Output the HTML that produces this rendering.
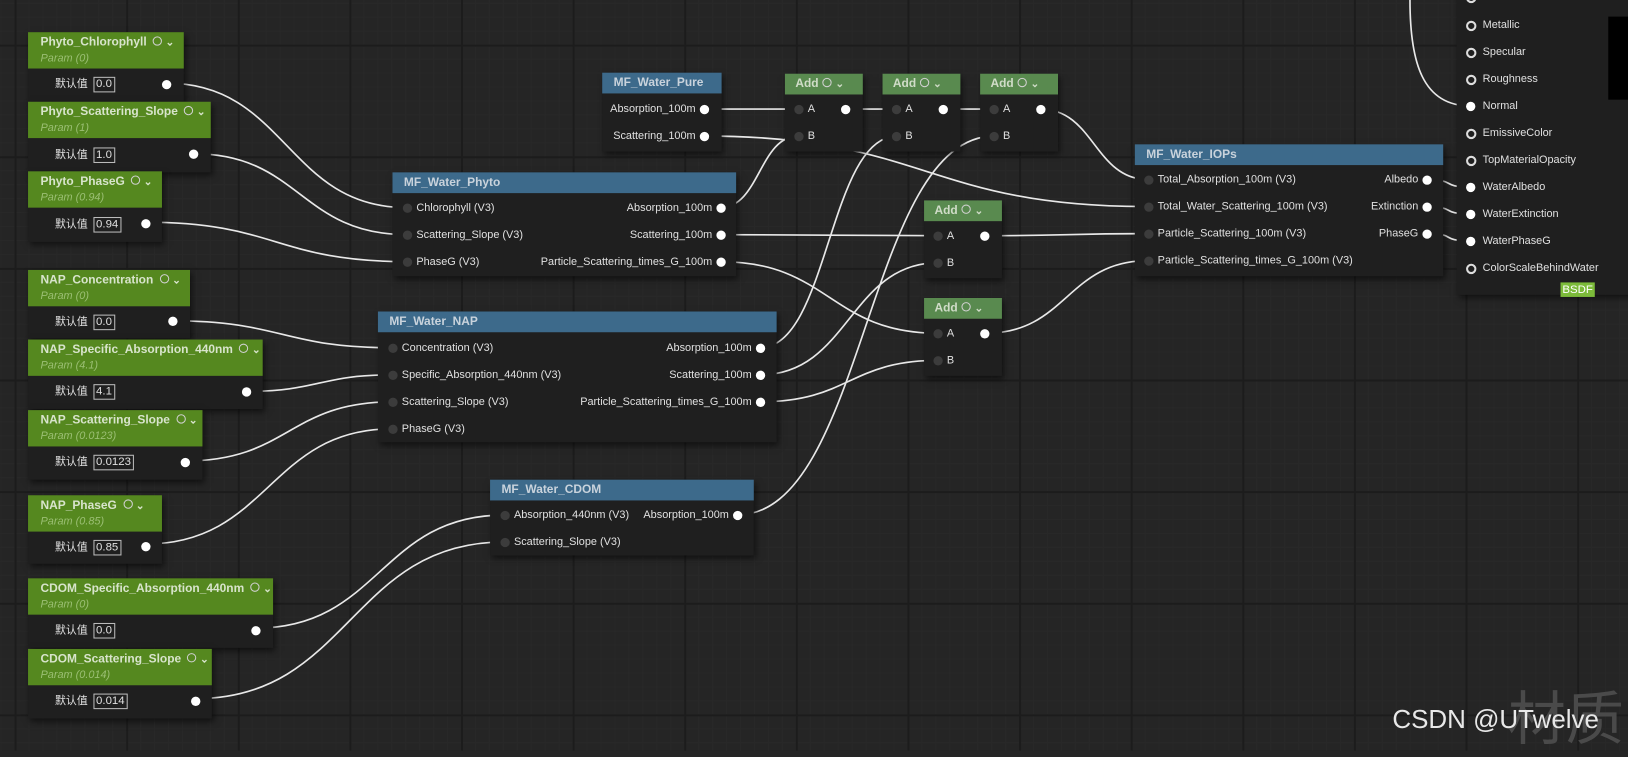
<!DOCTYPE html>
<html><head><meta charset="utf-8">
<style>
html,body{margin:0;padding:0;width:1628px;height:751px;overflow:hidden;background:#252525;}
#wrap{position:absolute;left:0;top:0;width:1568px;height:723px;transform:scale(1.03827);transform-origin:0 0;
 background-color:#252525;
 background-image:
 linear-gradient(to right,#1c1c1c 0,#1c1c1c 2px,transparent 2px),
 linear-gradient(to bottom,#1c1c1c 0,#1c1c1c 2px,transparent 2px),
 linear-gradient(to right,#282828 0,#282828 1px,transparent 1px),
 linear-gradient(to bottom,#282828 0,#282828 1px,transparent 1px);
 background-size:107.5px 107.5px,107.5px 107.5px,13.44px 13.44px,13.44px 13.44px;
 background-position:14px 43px,14px 43px,14px 43px,14px 43px;
 font-family:"Liberation Sans","Noto Sans CJK SC",sans-serif;color:#e6e6e6;}
.n{position:absolute;background:#1f1f1f;box-shadow:2px 3px 6px rgba(0,0,0,.55);}
.h{position:absolute;left:0;right:0;top:0;color:#dcdcdc;font-weight:bold;font-size:11.5px;}
.hb{background:#3d6a8b;height:20px;line-height:20px;padding-left:11px;color:#c9d3dc;}
.hg{background:#55881f;height:35px;}
.hg .t{position:absolute;left:12px;top:4px;color:#d8e4cc;}
.hg .p{position:absolute;left:12px;top:19px;font-style:italic;font-weight:normal;color:#9bbf74;font-size:10.5px;}
.ha{background:#598a4f;height:20px;line-height:20px;padding-left:10px;color:#d0dcc8;}
.ic{display:inline-block;width:7px;height:7px;border:1.5px solid #d0d0d0;border-radius:50%;vertical-align:middle;margin-left:4px;position:relative;top:-1px}
.l{position:absolute;font-size:10.5px;color:#e0e0e0;white-space:nowrap;line-height:12px;}
.pin{position:absolute;width:9px;height:9px;border-radius:50%;}
.po{background:#fff;}
.pi{background:#3c3c3c;}
.pr{border:2px solid #ddd;width:6px;height:6px;}
.box{display:inline-block;border:1px solid #bbb;padding:0 2px;font-size:11px;margin-left:5px;line-height:13px}
svg{position:absolute;left:0;top:0}
</style></head><body><div id="wrap">
<svg width="1568" height="723" id="wires"></svg>
<div id="nodes"></div>
<div style="position:absolute;left:1549px;top:16px;width:19px;height:80px;background:#000"></div>
<div style="position:absolute;left:1452px;top:648px;font-size:56px;color:#4a4a4a;font-family:'Noto Sans CJK SC',sans-serif;">材质</div>
<div style="position:absolute;left:1341px;top:679px;font-size:25px;color:#e8e8e8;">CSDN @UTwelve</div>
</div>
<script>
var N=document.getElementById('nodes'),h='';
function node(x,y,w,hh){h+='<div class="n" style="left:'+x+'px;top:'+y+'px;width:'+w+'px;height:'+hh+'px"></div>';}
function lab(x,y,t,right){h+='<div class="l" style="'+(right?'right:'+(1568-x)+'px':'left:'+x+'px')+';top:'+(y-6)+'px">'+t+'</div>';}
function pin(x,y,c){h+='<div class="pin '+c+'" style="left:'+(x-4.5)+'px;top:'+(y-4.5)+'px"></div>';}
function param(x,y,w,name,p,val,px,bodyH){
 node(x,y,w,35+bodyH);
 h+='<div class="h hg" style="position:absolute;left:'+x+'px;top:'+y+'px;width:'+w+'px"><span class="t">'+name+'<span class="ic" style="margin-left:6px"></span> <span style="font-size:10px">&#8964;</span></span><span class="p">Param ('+p+')</span></div>';
 var ry=y+35+bodyH/2-1;
 h+='<div class="l" style="left:'+(x+26)+'px;top:'+(ry-7)+'px">默认值<span class="box">'+val+'</span></div>';
 pin(px,ry,'po');
}
param(27,31,150,'Phyto_Chlorophyll','0','0.0',160,32);
param(27,98,176,'Phyto_Scattering_Slope','1','1.0',186,33);
param(27,165,129,'Phyto_PhaseG','0.94','0.94',140,33);
param(27,260,156,'NAP_Concentration','0','0.0',166,31);
param(27,327,226,'NAP_Specific_Absorption_440nm','4.1','4.1',237,32);
param(27,395,168,'NAP_Scattering_Slope','0.0123','0.0123',178,32);
param(27,477,129,'NAP_PhaseG','0.85','0.85',140,31);
param(27,557,236,'CDOM_Specific_Absorption_440nm','0','0.0',246,32);
param(27,625,177,'CDOM_Scattering_Slope','0.014','0.014',188,32);
function mf(x,y,w,hh,name,ins,outs,ip,op,ys){
 node(x,y,w,hh);
 h+='<div class="h hb" style="position:absolute;left:'+x+'px;top:'+y+'px;width:'+(w-11)+'px">'+name+'</div>';
 ins.forEach(function(t,i){pin(ip,ys[i],'pi');lab(ip+9,ys[i],t);});
 outs.forEach(function(t,i){if(!t)return;pin(op,ys[i],'po');lab(op-8,ys[i],t,1);});
}
mf(580,70,115,76,'MF_Water_Pure',[],['Absorption_100m','Scattering_100m'],0,678,[105,131]);
mf(378,166,331,100,'MF_Water_Phyto',['Chlorophyll (V3)','Scattering_Slope (V3)','PhaseG (V3)'],['Absorption_100m','Scattering_100m','Particle_Scattering_times_G_100m'],392,694,[200,226,252]);
mf(364,300,384,126,'MF_Water_NAP',['Concentration (V3)','Specific_Absorption_440nm (V3)','Scattering_Slope (V3)','PhaseG (V3)'],['Absorption_100m','Scattering_100m','Particle_Scattering_times_G_100m'],378,732,[335,361,387,413]);
mf(472,462,254,73,'MF_Water_CDOM',['Absorption_440nm (V3)','Scattering_Slope (V3)'],['Absorption_100m'],486,710,[496,522]);
mf(1093,139,297,127,'MF_Water_IOPs',['Total_Absorption_100m (V3)','Total_Water_Scattering_100m (V3)','Particle_Scattering_100m (V3)','Particle_Scattering_times_G_100m (V3)'],['Albedo','Extinction','PhaseG'],1106,1374,[173,199,225,251]);
function add(x,y,ya,yb){
 node(x,y,75,yb-y+15);
 h+='<div class="h ha" style="position:absolute;left:'+x+'px;top:'+y+'px;width:65px">Add<span class="ic"></span> <span style="font-size:10px">&#8964;</span></div>';
 pin(x+13,ya,'pi');lab(x+22,ya,'A');pin(x+13,yb,'pi');lab(x+22,yb,'B');pin(x+58,ya,'po');
}
add(756,71,105,131);add(850,71,105,131);add(944,71,105,131);
add(890,193,227,253);add(890,287,321,347);
node(1403,-10,170,294);
var rl=[['BaseColor',-3,0],['Metallic',24,0],['Specular',50,0],['Roughness',76,0],['Normal',102,1],['EmissiveColor',128,0],['TopMaterialOpacity',154,0],['WaterAlbedo',180,1],['WaterExtinction',206,1],['WaterPhaseG',232,1],['ColorScaleBehindWater',258,0]];
rl.forEach(function(r){pin(1416,r[1],r[2]?'po':'pr');lab(1428,r[1],r[0]);});
h+='<div style="position:absolute;left:1503px;top:272px;width:33px;height:14px;background:#7cbb3a;color:#fff;font-size:11px;text-align:center;line-height:14px">BSDF</div>';
N.innerHTML=h;
var W=[[160,80,392,200],[186,148,392,226],[140,214,392,252],[166,309,378,335],[237,377,378,361],[178,444,378,387],[140,524,378,413],[246,605,486,496],[188,673,486,522],
[678,105,769,105],[814,105,864,105],[908,105,958,105],[1002,105,1106,173],[678,131,1106,199],[694,200,769,131],[694,226,904,227],[694,252,904,321],[732,335,864,131],[732,361,904,253],[732,387,904,347],[710,496,958,131],[949,227,1106,225],[949,321,1106,251],[1374,173,1416,180],[1374,199,1416,206],[1374,225,1416,232]];
var s='';
W.forEach(function(w){var d=Math.max(30,Math.abs(w[2]-w[0])*0.5);
 s+='<path d="M'+w[0]+' '+w[1]+' C'+(w[0]+d)+' '+w[1]+' '+(w[2]-d)+' '+w[3]+' '+w[2]+' '+w[3]+'" fill="none" stroke="#e8e8e8" stroke-width="1.6"/>';});
s+='<path d="M1358 0 C1358 60 1370 102 1416 102" fill="none" stroke="#e8e8e8" stroke-width="1.6"/>';
document.getElementById('wires').innerHTML=s;
</script>
</body></html>
